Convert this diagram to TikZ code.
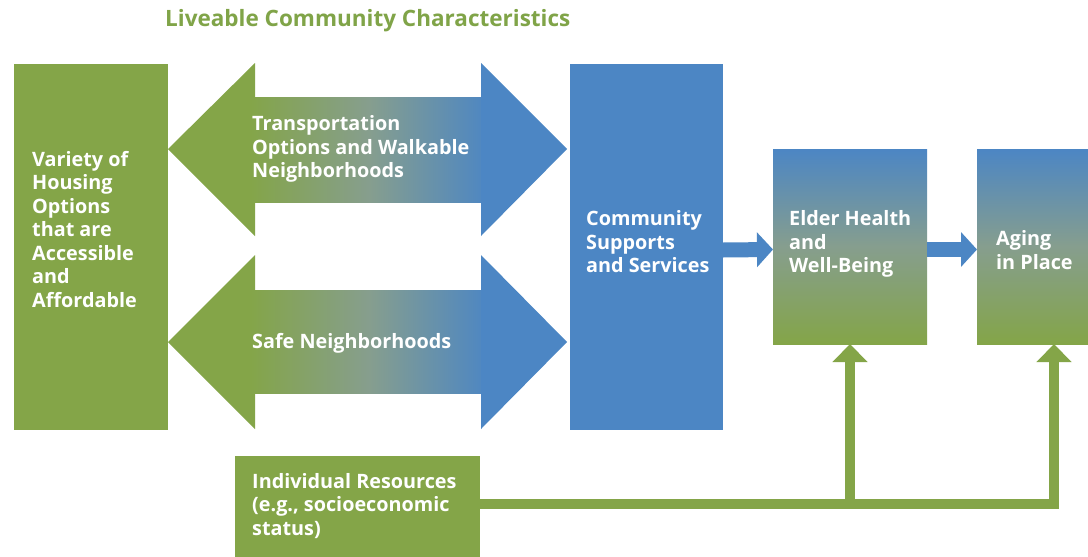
\documentclass[tikz,border=0pt]{standalone}
\usepackage{fontspec}
\setmainfont{Open Sans}
\usetikzlibrary{arrows.meta}
\definecolor{lgreen}{RGB}{132,165,72}
\definecolor{lblue}{RGB}{76,134,196}
\definecolor{lmid}{RGB}{134,158,142}
\definecolor{tgreen}{RGB}{128,164,72}
\tikzset{
  box/.style={inner sep=0pt, outer sep=0pt, anchor=north west},
  lbl/.style={text=white, font=\bfseries\fontsize{19.8}{23.5}\selectfont, align=left, anchor=west, inner sep=0pt},
  flow/.style={draw=lblue, line width=15pt, -{Triangle[width=34pt,length=16pt]}},
  res/.style={draw=lgreen, line width=10pt, line join=miter},
  restip/.style={res, -{Triangle[width=34pt,length=18pt]}},
  hgrad/.style={left color=lgreen, right color=lblue, middle color=lmid},
  vgrad/.style={top color=lblue, bottom color=lgreen, middle color=lmid}
}
\begin{document}
\begin{tikzpicture}[x=1pt,y=-1pt]
\clip (0,0) rectangle (1088,557);
\fill[white] (0,0) rectangle (1088,557);

\node[anchor=west, inner sep=0pt, text=tgreen, font=\bfseries\fontsize{22.5}{27}\selectfont] (title) at (165,21) {Liveable Community Characteristics};

% boxes
\node[box, fill=lgreen, minimum width=154pt, minimum height=366pt] (housing) at (14,64) {};
\node[box, fill=lblue, minimum width=153pt, minimum height=366pt] (community) at (570,64) {};
\node[box, vgrad, minimum width=154pt, minimum height=195pt] (elder) at (773,149) {};
\node[box, vgrad, minimum width=154pt, minimum height=195pt] (aging) at (977,149) {};
\node[box, fill=lgreen, minimum width=245pt, minimum height=130pt] (resources) at (235,456) {};

% double arrows
\fill[lgreen] (168,149) -- (255,63) -- (255,236) -- cycle;
\shade[hgrad] (249,97) rectangle (490,202);
\fill[lblue] (481,63) -- (567,149) -- (481,236) -- cycle;
\fill[lblue] (481,97) rectangle (491,202);

\fill[lgreen] (168,342) -- (255,255) -- (255,429) -- cycle;
\shade[hgrad] (249,290) rectangle (490,393);
\fill[lblue] (481,255) -- (567,342) -- (481,429) -- cycle;
\fill[lblue] (481,290) rectangle (491,393);

% labels
\node[lbl] (housingtxt) at (32,229.5) {Variety of\\Housing\\Options\\that are\\Accessible\\and\\Affordable};
\node[lbl] (transtxt) at (252,149) {Transportation\\Options and Walkable\\Neighborhoods};
\node[lbl] (safetxt) at (252,343) {Safe Neighborhoods};
\node[lbl] (commtxt) at (586,242) {Community\\Supports\\and Services};
\node[lbl] (eldertxt) at (789,244) {Elder Health\\and\\Well-Being};
\node[lbl] (agingtxt) at (996,250) {Aging\\in Place};
\node[lbl] (restxt) at (252,506) {Individual Resources\\(e.g., socioeconomic\\status)};

% connectors
\draw[flow] ([yshift=-3pt]community.east) -- ([yshift=-3pt]elder.west);
\draw[flow] ([yshift=-3pt]elder.east) -- ([yshift=-3pt]aging.west);

\coordinate (bus) at (0,504);
\draw[restip] (resources.east |- bus) -- (aging.south |- bus) -- (aging.south);
\draw[restip] (elder.south |- bus) -- (elder.south);
\end{tikzpicture}
\end{document}
